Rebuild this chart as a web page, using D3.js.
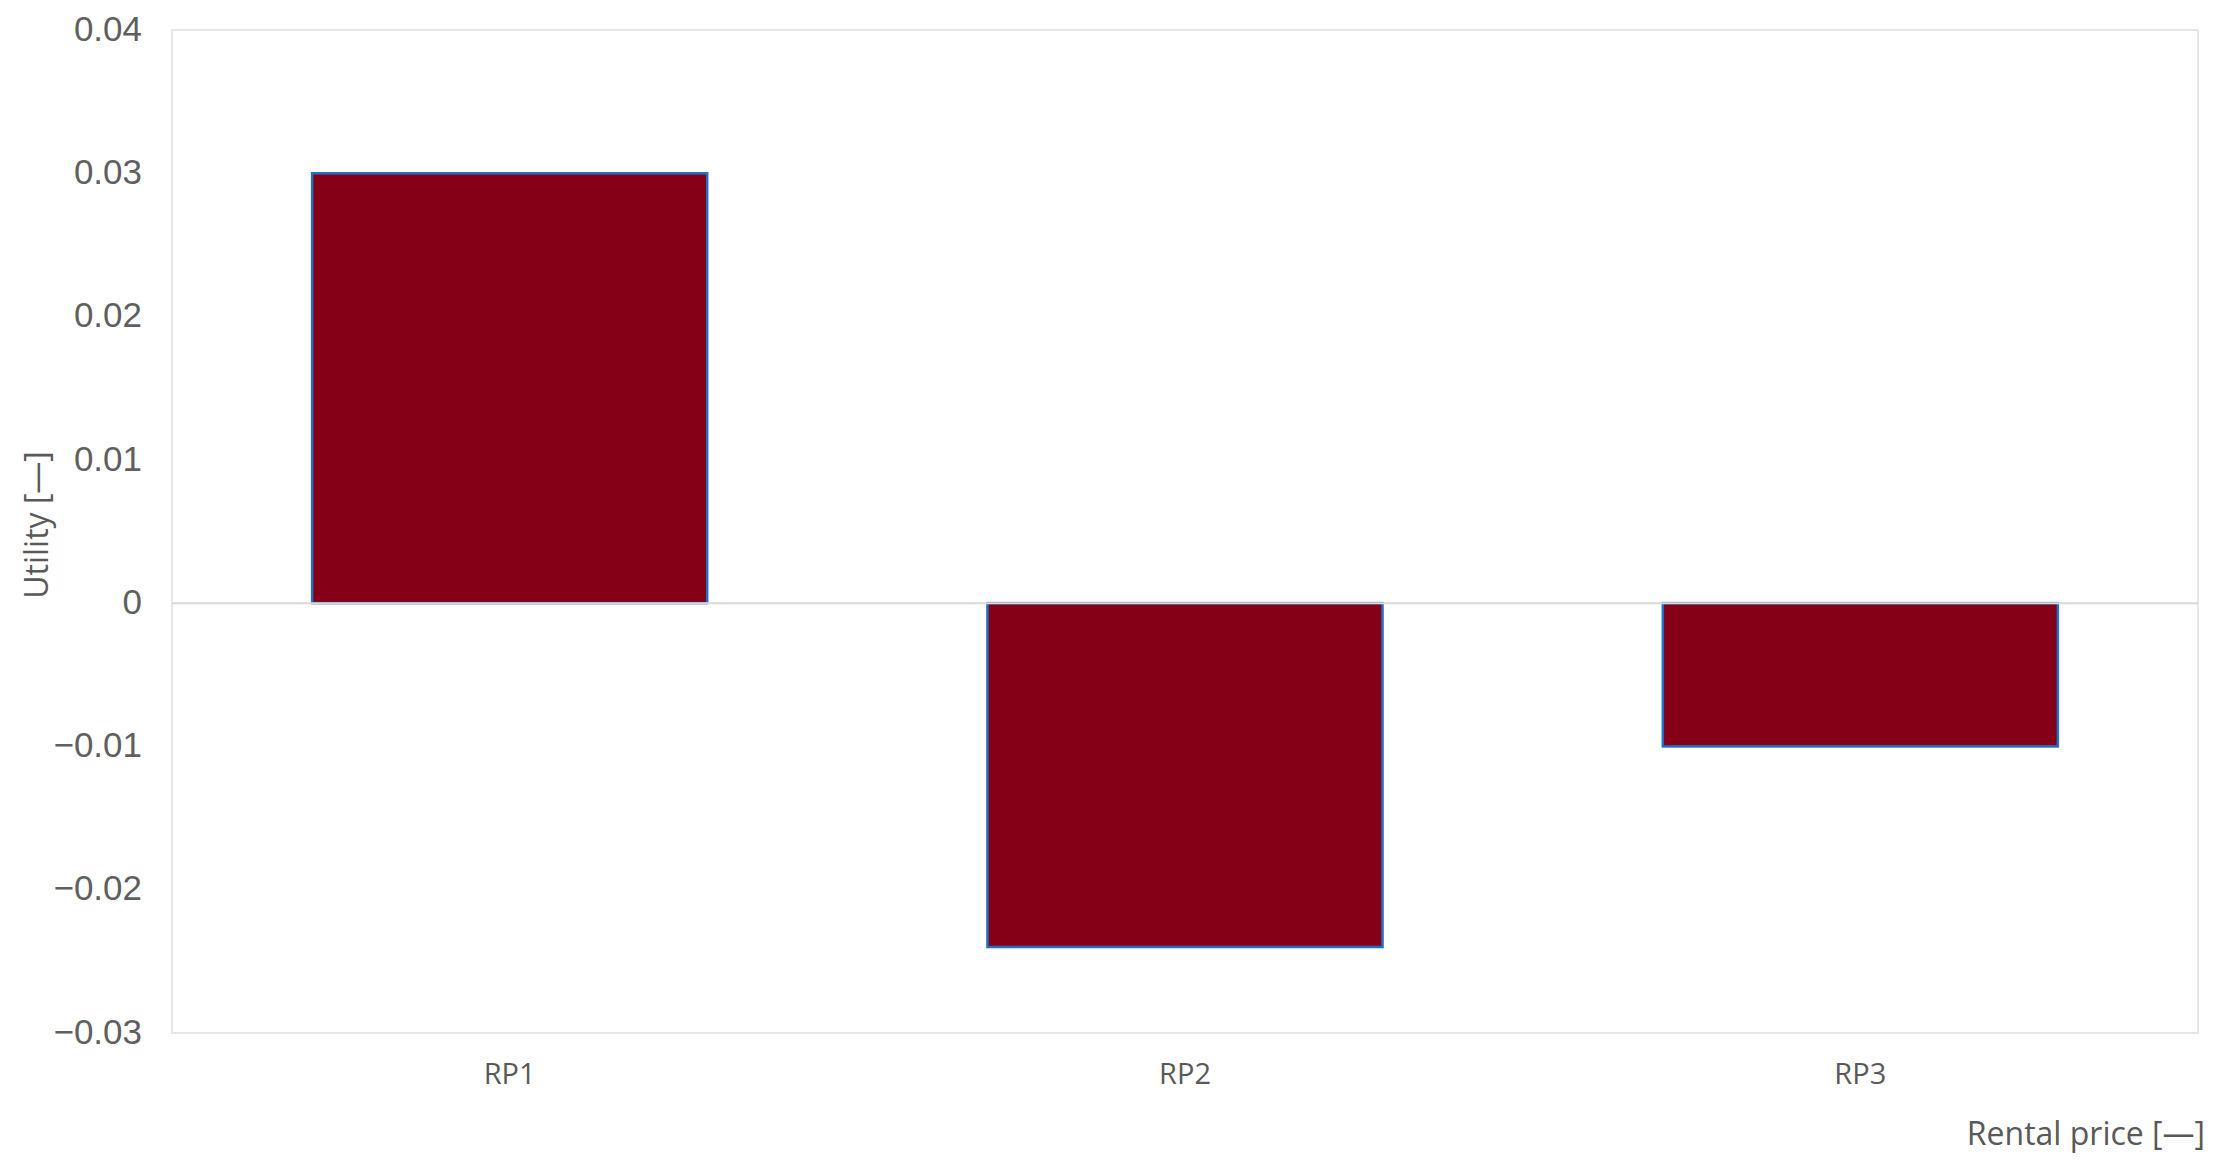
<!DOCTYPE html>
<html>
<head>
<meta charset="utf-8">
<script src="https://cdn.jsdelivr.net/npm/d3@7"></script>
<style>
	body { margin: 0; background: #fff; }
</style>
</head>
<body>
<div id="chart"></div>
<script>
// chart data
const categories = ["RP1", "RP2", "RP3"]
const utility = [0.030, -0.024, -0.010]
const yTicks = [0.04, 0.03, 0.02, 0.01, 0, -0.01, -0.02, -0.03]

const svgWidth = 2223
const svgHeight = 1165

let margin = {
	top: 30,
	right: 25,
	bottom: 132,
	left: 172
}

let width = svgWidth - margin.left - margin.right
let height = svgHeight - margin.top - margin.bottom

let svg = d3
	.select("#chart")
	.append("svg")
	.attr("width", svgWidth)
	.attr("height", svgHeight)

let chartGroup = svg
	.append("g")
	.attr("transform", `translate(${margin.left}, ${margin.top})`)

// scales
let xScale = d3.scaleBand()
	.domain(categories)
	.range([0, width])
	.paddingInner(0.415)
	.paddingOuter(0.2075)

let yScale = d3.scaleLinear()
	.domain([-0.03, 0.04])
	.range([height, 0])

// plot border
chartGroup.append("rect")
	.attr("x", 0)
	.attr("y", 0)
	.attr("width", width)
	.attr("height", height)
	.attr("fill", "none")
	.attr("stroke", "#e6e6e6")
	.attr("stroke-width", 2)

// y axis tick labels
let fmt = d => d === 0 ? "0" : (d < 0 ? "\u2212" : "") + Math.abs(d).toFixed(2)
let leftAxis = d3.axisLeft(yScale)
	.tickValues(yTicks)
	.tickSize(0)
	.tickPadding(30)
	.tickFormat(fmt)

let yAxis = chartGroup.append("g")
	.attr("transform", "translate(0, -1)")
	.call(leftAxis)
yAxis.select(".domain").remove()
yAxis.selectAll("text")
	.attr("fill", "#5f5f5f")
	.style("font-family", "'Liberation Sans', Arial, sans-serif")
	.style("font-size", "35px")

// bars
chartGroup.selectAll(".bar")
	.data(utility)
	.enter()
	.append("rect")
	.classed("bar", true)
	.attr("x", (d, i) => xScale(categories[i]))
	.attr("y", d => yScale(Math.max(0, d)))
	.attr("width", xScale.bandwidth())
	.attr("height", d => Math.abs(yScale(d) - yScale(0)))
	.attr("fill", "#850016")
	.attr("stroke", "#1f6fc5")
	.attr("stroke-width", 2.5)

// zero line
chartGroup.append("line")
	.attr("x1", 0)
	.attr("x2", width)
	.attr("y1", yScale(0))
	.attr("y2", yScale(0))
	.attr("stroke", "#d9d9d9")
	.attr("stroke-width", 2)

// x axis labels
let bottomAxis = d3.axisBottom(xScale)
	.tickSize(0)
	.tickPadding(30)

let xAxis = chartGroup.append("g")
	.attr("transform", `translate(0, ${height})`)
	.call(bottomAxis)
xAxis.select(".domain").remove()
xAxis.selectAll("text")
	.attr("fill", "#595959")
	.style("font-family", "'Open Sans', sans-serif")
	.style("font-size", "29px")

// axis titles
svg.append("text")
	.attr("x", 2205)
	.attr("y", 1145)
	.attr("text-anchor", "end")
	.attr("fill", "#595959")
	.style("font-family", "'Open Sans', sans-serif")
	.style("font-size", "32px")
	.text("Rental price [—]")

svg.append("text")
	.attr("transform", `translate(48, ${525}) rotate(-90)`)
	.attr("text-anchor", "middle")
	.attr("fill", "#595959")
	.style("font-family", "'Open Sans', sans-serif")
	.style("font-size", "32px")
	.text("Utility [—]")
</script>
</body>
</html>
